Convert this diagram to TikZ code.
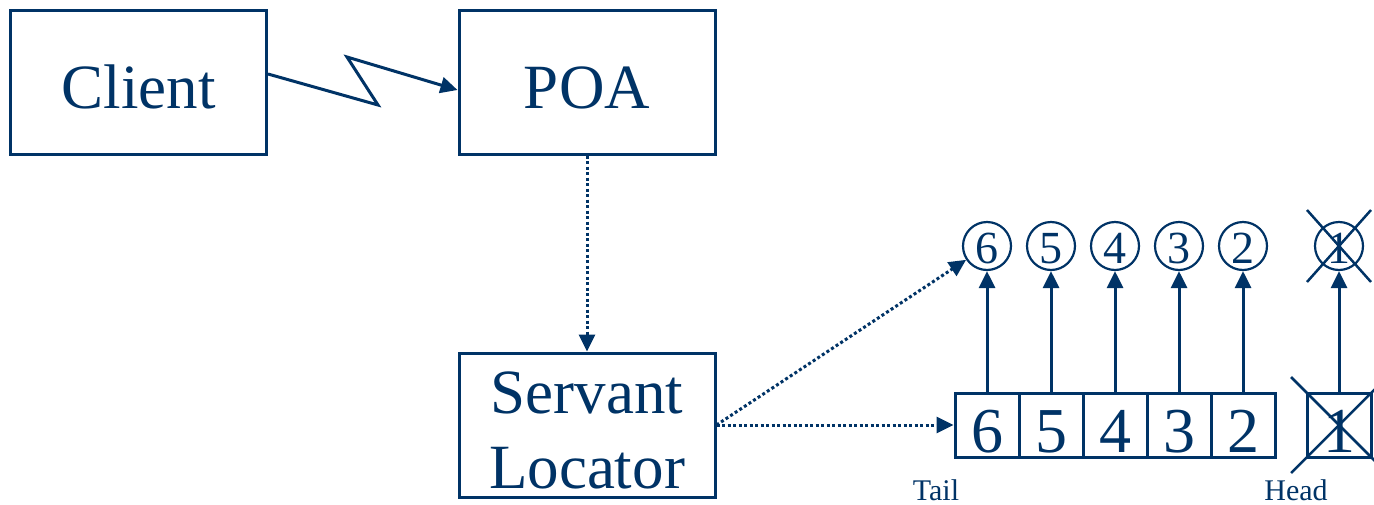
\documentclass[tikz,border=0pt]{standalone}
\usepackage{fontspec}
\setmainfont{Liberation Serif}
\usetikzlibrary{arrows.meta,calc}
\definecolor{navy}{RGB}{0,51,102}
\begin{document}
\begin{tikzpicture}[x=1pt,y=-1pt,
  every node/.style={text=navy},
  bigbox/.style={draw=navy,line width=3pt,minimum width=256pt,minimum height=144pt,inner sep=0pt,
    font=\fontsize{63}{75}\selectfont},
  cell/.style={draw=navy,line width=3pt,minimum width=64pt,minimum height=64pt,inner sep=0pt,
    font=\fontsize{64}{64}\selectfont,text height=55pt,text depth=0pt},
  ring/.style={draw=navy,line width=2.2pt,circle,minimum size=48pt,inner sep=0pt,
    font=\fontsize{46}{46}\selectfont,text height=34pt,text depth=0pt},
  lab/.style={font=\fontsize{30}{30}\selectfont,anchor=base,inner sep=0pt},
  tip/.style={-{Triangle[length=17pt,width=16pt]}},
  solidarrow/.style={draw=navy,line width=3pt,tip},
  dotarrow/.style={draw=navy,line width=3pt,dash pattern=on 3pt off 2.5pt,tip},
  crossline/.style={draw=navy,line width=2.5pt}]
\clip (0,0) rectangle (1374,504);
\fill[white] (0,0) rectangle (1374,504);
% main boxes
\node[bigbox,text height=53pt,text depth=0pt] (client) at (138.5,82) {Client};
\node[bigbox,text height=53pt,text depth=0pt] (poa) at (587,82) {POA};
\node[bigbox,align=center,text height=126pt,text depth=0pt] (sl) at (587,425) {Servant\\Locator};
% zigzag
\coordinate (z1) at (378,105);
\coordinate (z2) at (347,57);
\draw[draw=navy,line width=3pt,line join=miter,tip]
  ($(client.east)+(0,-8)$) -- (z1) -- (z2) -- ($(poa.west)+(0,8)$);
% POA -> SL
\draw[dotarrow] (poa.south) -- (sl.north);
% queue cells
\node[cell] (q6) at (987,425) {6};
\node[cell] (q5) at (1051,425) {5};
\node[cell] (q4) at (1115,425) {4};
\node[cell] (q3) at (1179,425) {3};
\node[cell] (q2) at (1243,425) {2};
\node[cell] (q1) at (1339,425) {1};
% circles
\node[ring] (c6) at (987,246) {6};
\node[ring] (c5) at (1051,246) {5};
\node[ring] (c4) at (1115,246) {4};
\node[ring] (c3) at (1179,246) {3};
\node[ring] (c2) at (1243,246) {2};
\node[ring] (c1) at (1339,246) {1};
% arrows up
\foreach \i in {6,5,4,3,2,1}{\draw[solidarrow] (q\i.north) -- (c\i.south);}
% SL arrows
\draw[dotarrow] (sl.east) -- (q6.west);
\draw[dotarrow] (sl.east) -- (c6);
% crosses
\draw[crossline] (1291,377) -- (1387,473);
\draw[crossline] (1291,473) -- (1387,377);
\draw[crossline] (1307,210) -- (1371,282);
\draw[crossline] (1307,282) -- (1371,210);
% labels
\node[lab] (tail) at (936,500) {Tail};
\node[lab] (head) at (1296,500) {Head};
\end{tikzpicture}
\end{document}
